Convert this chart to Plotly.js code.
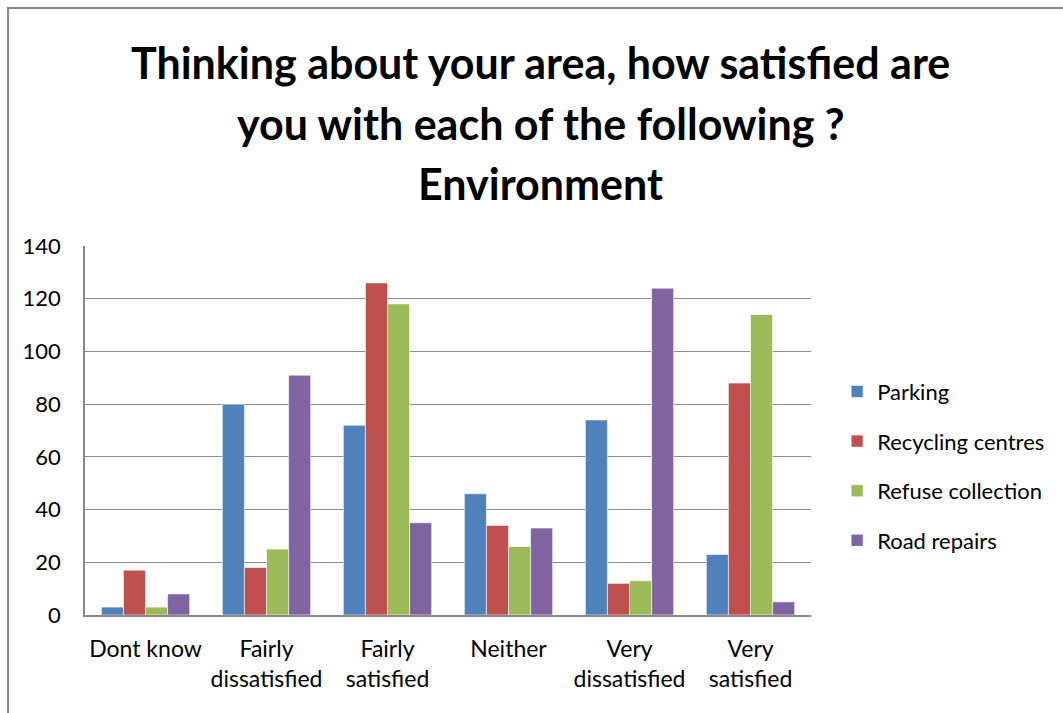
<!DOCTYPE html>
<html><head><meta charset="utf-8">
<script src="https://cdn.plot.ly/plotly-3.0.1.min.js"></script>
<style>body{margin:0;background:#fff}#c{width:1063px;height:713px}</style>
</head><body><div id="c"></div>
<script>
const categories = ["Dont know", "Fairly<br>dissatisfied", "Fairly<br>satisfied", "Neither", "Very<br>dissatisfied", "Very<br>satisfied"];
const parking = [3, 80, 72, 46, 74, 23];
const recycling = [17, 18, 126, 34, 12, 88];
const refuse = [3, 25, 118, 26, 13, 114];
const road = [8, 91, 35, 33, 124, 5];
const seriesNames = ["Parking", "Recycling centres", "Refuse collection", "Road repairs"];
const colors = ["#4F81BD", "#C0504D", "#9BBB59", "#8064A2"];
const yTicks = [0, 20, 40, 60, 80, 100, 120, 140];
const titleLines = ["Thinking about your area, how satisfied are", "you with each of the following ?", "Environment"];

const font = "Lato, 'Open Sans', sans-serif";
const data = [parking, recycling, refuse, road].map((v, i) => ({
  type: "bar", x: categories, y: v, name: seriesNames[i], legendgroup: "g" + i,
  marker: {color: colors[i], line: {color: "rgba(255,255,255,0.6)", width: 1}}
}));
const titleY = [1.4986, 1.3333, 1.1707];
const annotations = titleLines.map((t, i) => ({
  text: "<b>" + t + "</b>", xref: "paper", yref: "paper", x: 0.628, y: titleY[i],
  xanchor: "center", yanchor: "middle", showarrow: false,
  font: {family: font, size: 43, color: "#000"}
}));
const layout = {
  width: 1063, height: 713,
  margin: {l: 85, r: 252, t: 246, b: 98},
  paper_bgcolor: "#fff", plot_bgcolor: "#fff",
  barmode: "group", bargap: 0.27, bargroupgap: 0,
  annotations: annotations,
  font: {family: font, color: "#000"},
  xaxis: {showgrid: false, showline: true, linecolor: "#888", linewidth: 1.5,
    tickfont: {size: 23, family: font, color: "#000"}, ticks: "", automargin: false, ticklabelstandoff: 13},
  yaxis: {range: [0, 140], tickvals: yTicks, showgrid: true, gridcolor: "#8c8c8c", gridwidth: 1.2,
    showline: true, linecolor: "#888", linewidth: 1.5, zeroline: false,
    tickfont: {size: 22, family: font, color: "#000"}, ticks: "", automargin: false, ticklabelstandoff: 18},
  legend: {x: 1.036, y: 0.662, xanchor: "left", yanchor: "top", font: {size: 22, family: font, color: "#000"},
    tracegroupgap: 18, itemwidth: 30, bgcolor: "rgba(0,0,0,0)"},
  shapes: [{type: "rect", xref: "paper", yref: "paper", x0: -0.106, x1: 1.5, y0: -0.3, y1: 1.645,
    line: {color: "#888", width: 2}, fillcolor: "rgba(0,0,0,0)"}],
  showlegend: true
};
Plotly.newPlot("c", data, layout, {displayModeBar: false});
</script></body></html>
